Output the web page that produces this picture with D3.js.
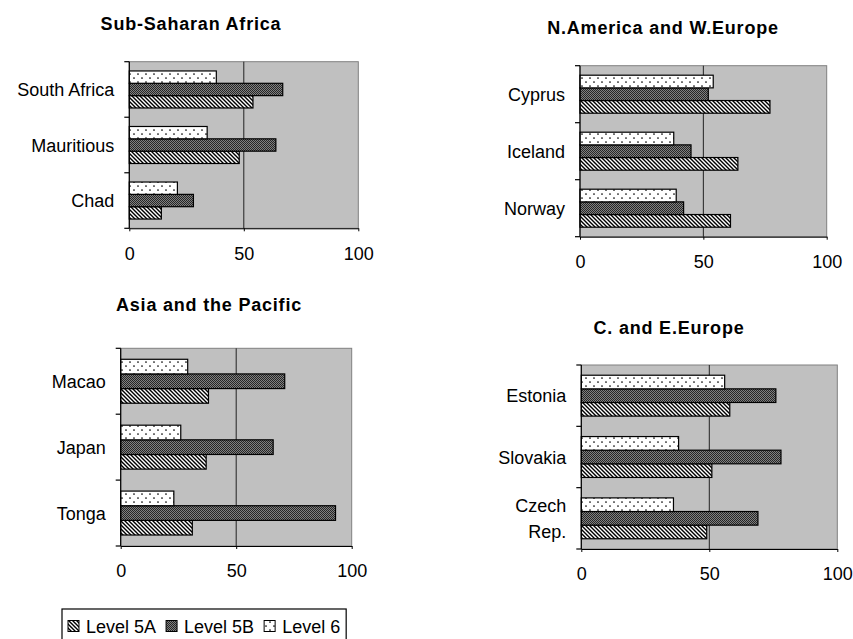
<!DOCTYPE html>
<html>
<head>
<meta charset="utf-8">
<script src="https://cdn.jsdelivr.net/npm/d3@7/dist/d3.min.js"></script>
<style>
  html, body { margin: 0; padding: 0; background: #fff; }
  svg { display: block; font-family: "Liberation Sans", Arial, sans-serif; }
</style>
</head>
<body>
<svg id="chart" width="853" height="639"></svg>
<script>
// Series names (legend order)
const levels = ["Level 5A", "Level 5B", "Level 6"];

// Region titles
const regions = ["Sub-Saharan Africa", "N.America and W.Europe", "Asia and the Pacific", "C. and E.Europe"];

// Countries per region, listed top to bottom
const africaCountries = ["South Africa", "Mauritious", "Chad"];
const westCountries = ["Cyprus", "Iceland", "Norway"];
const asiaCountries = ["Macao", "Japan", "Tonga"];
const eastCountries = ["Estonia", "Slovakia", "Czech Rep."];

// Values (%) per country, same order as above
const africaLevel5A = [54, 48, 14];
const africaLevel5B = [67, 64, 28];
const africaLevel6 = [38, 34, 21];

const westLevel5A = [77, 64, 61];
const westLevel5B = [52, 45, 42];
const westLevel6 = [54, 38, 39];

const asiaLevel5A = [38, 37, 31];
const asiaLevel5B = [71, 66, 93];
const asiaLevel6 = [29, 26, 23];

const eastLevel5A = [58, 51, 49];
const eastLevel5B = [76, 78, 69];
const eastLevel6 = [56, 38, 36];

// Value axis ticks
const xTicks = [0, 50, 100];

const svg = d3.select("#chart");
const defs = svg.append("defs");

// Fill patterns for the three levels
const p5a = defs.append("pattern").attr("id", "pat5A")
  .attr("patternUnits", "userSpaceOnUse").attr("width", 4).attr("height", 4);
p5a.append("rect").attr("width", 4).attr("height", 4).attr("fill", "#fff");
p5a.append("path").attr("d", "M-1,-1L5,5M-1,3L1,5M3,-1L5,1")
  .attr("stroke", "#000").attr("stroke-width", 1.4);

// Dark fine checker
const p5b = defs.append("pattern").attr("id", "pat5B")
  .attr("patternUnits", "userSpaceOnUse").attr("width", 2).attr("height", 2);
p5b.append("rect").attr("width", 2).attr("height", 2).attr("fill", "#262626");
[[1, 0], [0, 1]].forEach(([x, y]) => p5b.append("rect").attr("x", x).attr("y", y)
  .attr("width", 1).attr("height", 1).attr("fill", "#808080"));

const p6 = defs.append("pattern").attr("id", "pat6")
  .attr("patternUnits", "userSpaceOnUse").attr("width", 8).attr("height", 8);
p6.append("rect").attr("width", 8).attr("height", 8).attr("fill", "#fff");
[[2, 2], [6, 6]].forEach(([x, y]) => p6.append("circle").attr("cx", x).attr("cy", y)
  .attr("r", 0.85).attr("fill", "#000"));

const fills = { "Level 5A": "url(#pat5A)", "Level 5B": "url(#pat5B)", "Level 6": "url(#pat6)" };

// Panel layout
const panels = [
  { title: regions[0], tx: 191, ty: 30, x0: 129.3, x1: 358.3, y0: 61.7, y1: 228.3,
    cats: africaCountries, s: [africaLevel5A, africaLevel5B, africaLevel6] },
  { title: regions[1], tx: 663, ty: 33.5, x0: 580, x1: 826.7, y0: 65.7, y1: 236.7,
    cats: westCountries, s: [westLevel5A, westLevel5B, westLevel6] },
  { title: regions[2], tx: 209, ty: 311, x0: 120.7, x1: 351.7, y0: 348.3, y1: 546,
    cats: asiaCountries, s: [asiaLevel5A, asiaLevel5B, asiaLevel6] },
  { title: regions[3], tx: 669, ty: 333.5, x0: 581.3, x1: 837.3, y0: 365, y1: 549,
    cats: eastCountries, s: [eastLevel5A, eastLevel5B, eastLevel6], wrapWidth: 80 }
];

const FONT = 18;

panels.forEach(p => {
  const g = svg.append("g");
  const x = d3.scaleLinear().domain([0, 100]).range([p.x0, p.x1]);
  const y = d3.scaleBand().domain(p.cats).range([p.y0, p.y1]).paddingInner(0).paddingOuter(0);
  // Excel draws the last series on top within each group
  const inner = d3.scaleBand().domain(levels.slice().reverse())
    .range([0, y.bandwidth()]).paddingInner(0).paddingOuter(0.75);

  // Plot area
  g.append("rect").attr("x", p.x0).attr("y", p.y0)
    .attr("width", p.x1 - p.x0).attr("height", p.y1 - p.y0)
    .attr("fill", "#c0c0c0").attr("stroke", "#808080").attr("stroke-width", 1);

  // Vertical gridlines
  g.selectAll(".grid").data(xTicks.filter(t => t > 0 && t < 100)).join("line")
    .attr("x1", d => x(d)).attr("x2", d => x(d))
    .attr("y1", p.y0).attr("y2", p.y1)
    .attr("stroke", "#222").attr("stroke-width", 1);

  // Bars
  const rows = [];
  p.cats.forEach((c, i) => levels.forEach((lv, j) => rows.push({ cat: c, level: lv, value: p.s[j][i] })));
  g.selectAll(".bar").data(rows).join("rect")
    .attr("x", x(0))
    .attr("y", d => y(d.cat) + inner(d.level))
    .attr("width", d => x(d.value) - x(0))
    .attr("height", inner.bandwidth())
    .attr("fill", d => fills[d.level])
    .attr("stroke", "#000").attr("stroke-width", 1.2);

  // Bottom axis
  const xAxis = d3.axisBottom(x).tickValues(xTicks).tickSize(3).tickPadding(15.5).tickSizeOuter(0);
  const ax = g.append("g").attr("transform", `translate(0,${p.y1})`).call(xAxis);
  ax.select(".domain").attr("stroke", "#000");
  ax.selectAll(".tick line").attr("stroke", "#000");
  ax.selectAll(".tick text").attr("font-size", FONT).attr("fill", "#000")
    .attr("font-family", "Liberation Sans, Arial, sans-serif");

  // Left axis line with ticks at category boundaries
  g.append("line").attr("x1", p.x0).attr("x2", p.x0).attr("y1", p.y0).attr("y2", p.y1)
    .attr("stroke", "#000").attr("stroke-width", 1.2);
  const bounds = p.cats.map(c => y(c)).concat([p.y1]);
  g.selectAll(".ytick").data(bounds).join("line")
    .attr("x1", p.x0 - 5).attr("x2", p.x0)
    .attr("y1", d => d).attr("y2", d => d)
    .attr("stroke", "#000").attr("stroke-width", 1.2);

  // Category labels
  p.cats.forEach(c => {
    const cy = y(c) + y.bandwidth() / 2;
    const t = g.append("text").attr("x", p.x0 - 15).attr("text-anchor", "end")
      .attr("font-size", FONT).attr("fill", "#000");
    let lines = [c];
    if (p.wrapWidth) {
      t.text(c);
      if (t.node().getComputedTextLength() > p.wrapWidth && c.includes(" ")) lines = c.split(" ");
      t.text(null);
    }
    const lh = 26;
    lines.forEach((ln, k) => {
      t.append("tspan").attr("x", p.x0 - 15)
        .attr("y", cy + (k - (lines.length - 1) / 2) * lh + 6.5)
        .text(ln);
    });
  });

  // Title
  svg.append("text").attr("x", p.tx).attr("y", p.ty).attr("text-anchor", "middle")
    .attr("font-size", FONT).attr("font-weight", "bold").attr("letter-spacing", 0.8)
    .attr("fill", "#000").text(p.title);
});

// Legend
const lg = svg.append("g");
const legBox = lg.append("rect").attr("x", 62).attr("y", 609).attr("height", 40)
  .attr("fill", "#fff").attr("stroke", "#000").attr("stroke-width", 1.2);
let lx = 68;
levels.forEach(lv => {
  lg.append("rect").attr("x", lx).attr("y", 620.5).attr("width", 11).attr("height", 11)
    .attr("fill", fills[lv]).attr("stroke", "#000").attr("stroke-width", 1);
  const t = lg.append("text").attr("x", lx + 18).attr("y", 632.5)
    .attr("font-size", FONT).attr("fill", "#000").text(lv);
  lx += 18 + t.node().getComputedTextLength() + 10;
});
legBox.attr("width", lx - 10 + 6 - 62);
</script>
</body>
</html>
